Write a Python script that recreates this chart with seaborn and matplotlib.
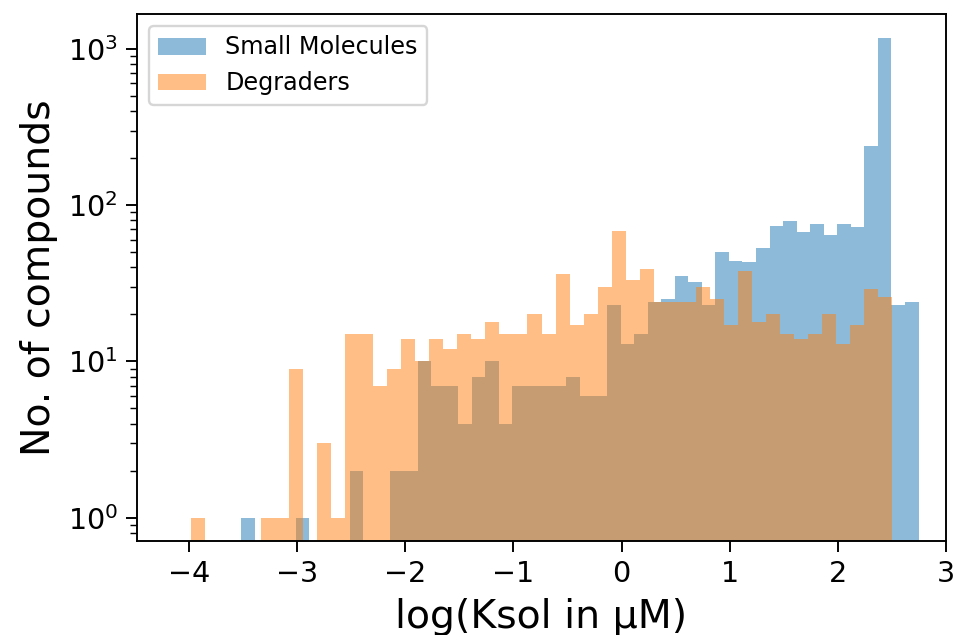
import numpy as np
import pandas as pd
import matplotlib
matplotlib.use("Agg")
import matplotlib.pyplot as plt
import seaborn as sns

# ---- data (50 bins per series) ----
SM_LABEL = "Small Molecules"
DEG_LABEL = "Degraders"
SM_RANGE = [-3.514, 2.746]     # min / max of log(Ksol) for small molecules
DEG_RANGE = [-3.98, 2.50]      # min / max of log(Ksol) for degraders
SM_COUNTS = [1, 0, 0, 0, 1, 0, 0, 0, 2, 0,
             0, 2, 2, 10, 7, 7, 4, 8, 10, 4,
             7, 7, 7, 7, 8, 6, 6, 23, 13, 15,
             24, 25, 35, 32, 23, 50, 44, 43, 53, 73,
             79, 67, 76, 64, 76, 72, 238, 1170, 23, 24]
DEG_COUNTS = [1, 0, 0, 0, 0, 1, 1, 9, 0, 3,
              1, 15, 15, 7, 9, 14, 10, 14, 12, 15,
              14, 18, 15, 15, 20, 15, 36, 17, 20, 30,
              68, 33, 39, 24, 24, 24, 30, 25, 17, 38,
              18, 20, 15, 14, 15, 20, 13, 17, 29, 26]
X_TICKS = [-4, -3, -2, -1, 0, 1, 2, 3]
XLABEL = "log(Ksol in µM)"
YLABEL = "No. of compounds"


def to_frame(rng, counts):
    edges = np.linspace(rng[0], rng[1], len(counts) + 1)
    centers = (edges[:-1] + edges[1:]) / 2
    return pd.DataFrame({"x": centers, "w": counts}), [float(e) for e in edges]


sm_df, sm_edges = to_frame(SM_RANGE, SM_COUNTS)
deg_df, deg_edges = to_frame(DEG_RANGE, DEG_COUNTS)

DPI = 172
fig = plt.figure(figsize=(955 / DPI, 635 / DPI), dpi=DPI)
ax = fig.add_axes([137 / 955, 1 - 541 / 635, (946 - 137) / 955, (541 - 14) / 635])

sns.histplot(data=sm_df, x="x", weights="w", bins=sm_edges, stat="count",
             color="#1f77b4", alpha=0.5, linewidth=0, label=SM_LABEL, ax=ax)
sns.histplot(data=deg_df, x="x", weights="w", bins=deg_edges, stat="count",
             color="#ff7f0e", alpha=0.5, linewidth=0, label=DEG_LABEL, ax=ax)

ax.set_yscale("log")
ax.set_ylim(0.71, 1670)
ax.set_xlim(-4.48, 3.0)
ax.set_xticks(X_TICKS)
ax.tick_params(which="major", labelsize=12, length=4.5, width=0.8)
ax.tick_params(which="minor", length=2.8, width=0.6)
ax.set_xlabel(XLABEL, fontsize=16.5)
ax.set_ylabel(YLABEL, fontsize=16.5)
ax.legend(loc="upper left", fontsize=10)

fig.savefig("out.png", dpi=DPI)
